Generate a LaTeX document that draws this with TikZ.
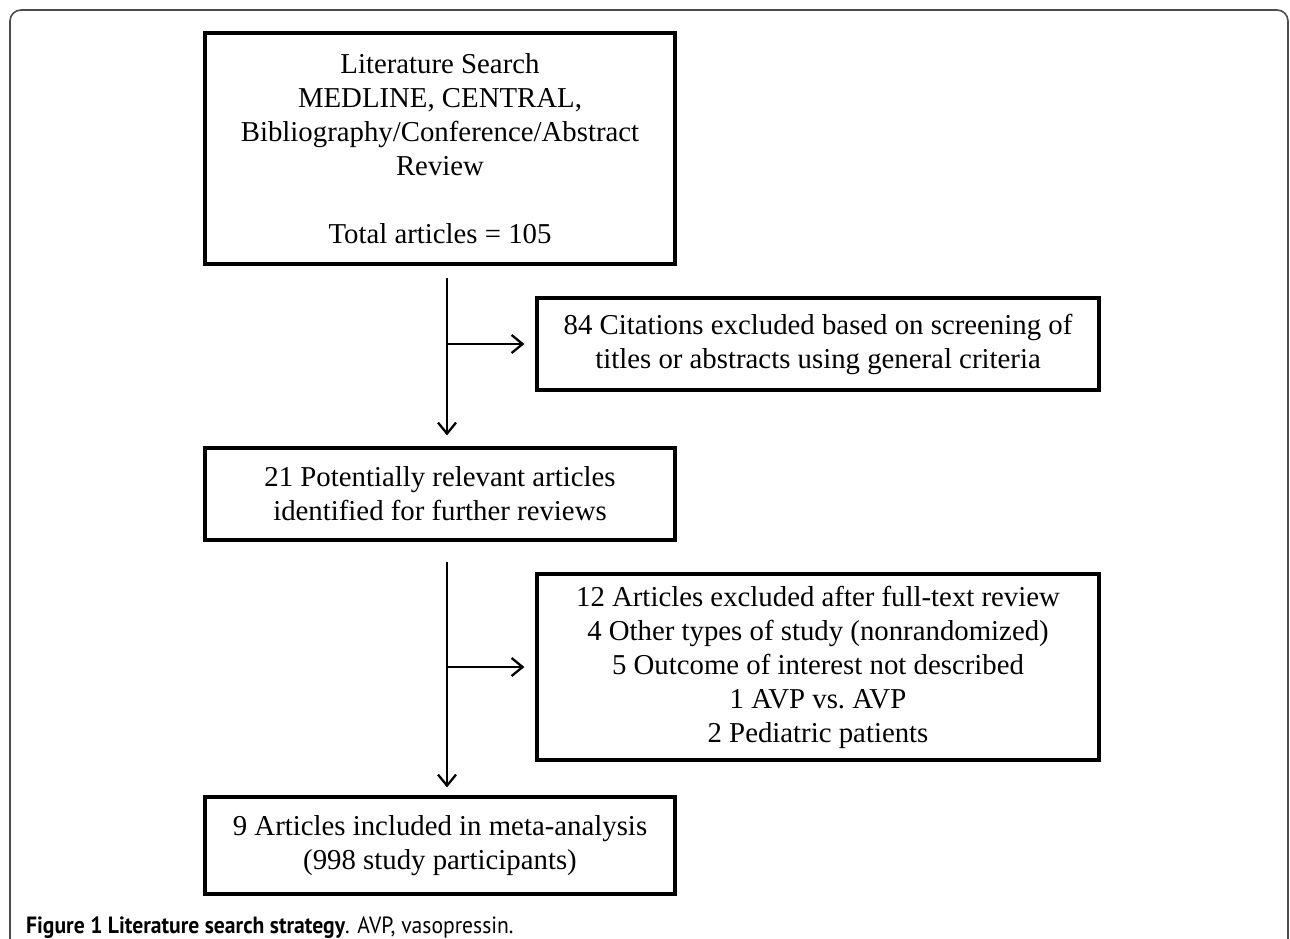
\documentclass[tikz,border=0pt]{standalone}
\usepackage{fontspec}
\setmainfont{Liberation Serif}
\newfontfamily\capfont[FakeStretch=0.92]{PT Sans}
\usetikzlibrary{arrows.meta}
\begin{document}
\begin{tikzpicture}[x=1pt,y=-1pt,
    box/.style={draw,line width=3.2pt,align=center,inner sep=0pt,
        font=\fontsize{28.8}{34}\selectfont},
    link/.style={->,line width=2.3pt},
    >={Straight Barb[length=11pt,width=18pt]}]
            \useasboundingbox (0,0) rectangle (1290,939);
            \draw[black!70, line width=1.6pt, rounded corners=11pt] (10,10) rectangle (1288,990);

            \node[box,minimum width=470pt,minimum height=231pt] (L1) at (440,148.5)
                {Literature Search\\ MEDLINE, CENTRAL,\\ Bibliography/Conference/Abstract\\ Review\\[34pt] Total articles = 105};
            \node[box,minimum width=562pt,minimum height=92pt] (R1) at (818,344)
                {84 Citations excluded based on screening of\\ titles or abstracts using general criteria};
            \node[box,minimum width=470pt,minimum height=92pt] (L2) at (440,494)
                {21 Potentially relevant articles\\ identified for further reviews};
            \node[box,minimum width=562pt,minimum height=186pt] (R2) at (818,667)
                {12 Articles excluded after full-text review\\ 4 Other types of study (nonrandomized)\\ 5 Outcome of interest not described\\ 1 AVP vs.\ AVP\\ 2 Pediatric patients};
            \node[box,minimum width=470pt,minimum height=97pt] (L3) at (440,845.5)
                {9 Articles included in meta-analysis\\ (998 study participants)};

            \coordinate (A1) at (447,278);
            \coordinate (A2) at (447,562);

            \draw[link,shorten >=11pt] (A1) -- (A1 |- L2.north);
            \draw[link,shorten >=11pt] (A1 |- R1.west) -- (R1.west);
            \draw[link,shorten >=8pt] (A2) -- (A2 |- L3.north);
            \draw[link,shorten >=11pt] (A2 |- R2.west) -- (R2.west);

            \node[anchor=base west,inner sep=0pt,font=\capfont\fontsize{23.5}{28}\selectfont] (cap) at (26,933)
                {\textbf{Figure 1 Literature search strategy}. AVP, vasopressin.};
\end{tikzpicture}
\end{document}
